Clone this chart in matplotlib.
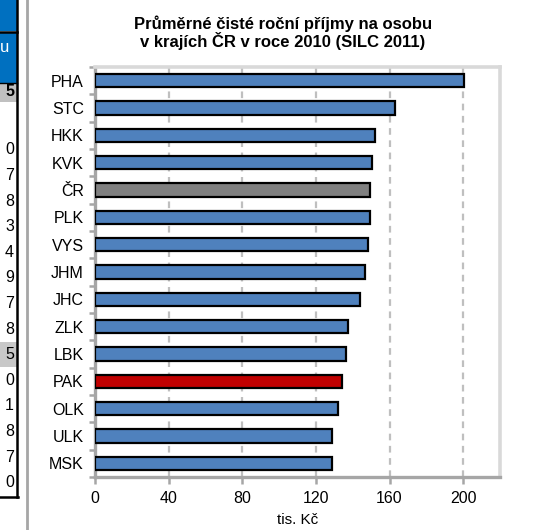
import matplotlib
matplotlib.use("Agg")
import matplotlib.pyplot as plt
from matplotlib.patches import Rectangle
from matplotlib.lines import Line2D

plt.rcParams['font.family'] = ['Liberation Sans', 'DejaVu Sans']

# Data
regions = ['PHA', 'STC', 'HKK', 'KVK', 'ČR', 'PLK', 'VYS', 'JHM',
           'JHC', 'ZLK', 'LBK', 'PAK', 'OLK', 'ULK', 'MSK']
income = [200.5, 163.0, 152.0, 150.5, 149.5, 149.5, 148.5, 146.5,
          144.0, 137.5, 136.5, 134.0, 132.0, 129.0, 128.5]
bar_colors = ['#4f81bd'] * len(regions)
bar_colors[regions.index('ČR')] = '#808080'
bar_colors[regions.index('PAK')] = '#c00000'
x_ticks = [0, 40, 80, 120, 160, 200]

# cropped table on the left edge (only last digits visible)
table_head = '5'
table_digits = ['0', '7', '8', '3', '4', '9', '7', '8', '5', '0', '1', '8', '7', '0']
table_gray_row = 8

W, H = 536, 530
fig = plt.figure(figsize=(W / 100, H / 100), dpi=100)


def fx(px):
    return px / W


def fy(py):
    return 1 - py / H


def box(x0, y0, x1, y1, color):
    fig.patches.append(Rectangle((fx(x0), fy(y1)), fx(x1) - fx(x0), fy(y0) - fy(y1),
                                 transform=fig.transFigure, facecolor=color,
                                 edgecolor='none', zorder=1))


def hline(y, x0, x1, color, lw):
    fig.lines.append(Line2D([fx(x0), fx(x1)], [fy(y), fy(y)], transform=fig.transFigure,
                            color=color, linewidth=lw, zorder=3))


def vline(x, y0, y1, color, lw):
    fig.lines.append(Line2D([fx(x), fx(x)], [fy(y0), fy(y1)], transform=fig.transFigure,
                            color=color, linewidth=lw, zorder=3))


# left table fragment
box(0, 0, 17, 31, '#0070c0')
box(0, 33, 17, 83, '#0070c0')
box(0, 83, 17, 102, '#c0c0c0')
row_y = [150 + i * 25.6 for i in range(len(table_digits))]
box(0, row_y[table_gray_row] - 12.5, 17, row_y[table_gray_row] + 12.5, '#c8c8c8')
hline(32, 0, 17, 'black', 1.8)
hline(83, 0, 17, 'black', 1.0)
hline(497, 0, 17.5, 'black', 1.8)
vline(17, 0, 497, 'black', 1.8)
vline(27, 0, 530, '#a6a6a6', 2.0)
fig.text(fx(0), fy(47), 'u', color='white', fontsize=12, va='center', ha='left')
fig.text(fx(14), fy(92), table_head, fontsize=11.5, fontweight='bold', va='center', ha='right')
for d, y in zip(table_digits, row_y):
    fig.text(fx(14), fy(y), d, fontsize=11.5, va='center', ha='right')

# chart
ax = fig.add_axes([fx(95), fy(477), fx(500) - fx(95), fy(67) - fy(477)])
ypos = list(range(len(regions)))
ax.barh(ypos, income, height=0.48, color=bar_colors, edgecolor='black',
        linewidth=1.6, zorder=3)
ax.set_ylim(len(regions) - 0.5, -0.5)
ax.set_xlim(0, 220)

ax.set_xticks(x_ticks)
ax.set_xticklabels([str(t) for t in x_ticks], fontsize=11.5)
ax.set_yticks(ypos)
ax.set_yticklabels(regions, fontsize=11.5)
ax.tick_params(axis='y', length=0, pad=8)
ax.tick_params(axis='x', length=5, width=1.8, color='#a6a6a6', pad=5)
ax.set_yticks([i - 0.5 for i in range(len(regions) + 1)], minor=True)
ax.tick_params(axis='y', which='minor', length=4, width=1.8, color='#a6a6a6')

for t in x_ticks[1:]:
    ax.axvline(t, color='#bfbfbf', linestyle=(0, (3, 2.5)), linewidth=1.6, zorder=1)

for s in ['left', 'bottom']:
    ax.spines[s].set_color('#a6a6a6')
    ax.spines[s].set_linewidth(2.4)
for s in ['top', 'right']:
    ax.spines[s].set_color('#d9d9d9')
    ax.spines[s].set_linewidth(2.6)

ax.set_xlabel('tis. Kč', fontsize=11, labelpad=5)
fig.text(fx(283), fy(33), 'Průměrné čisté roční příjmy na osobu\nv krajích ČR v roce 2010 (SILC 2011)',
         ha='center', va='center', fontsize=12, fontweight='bold', linespacing=1.0)

fig.savefig('out.png', dpi=100)
